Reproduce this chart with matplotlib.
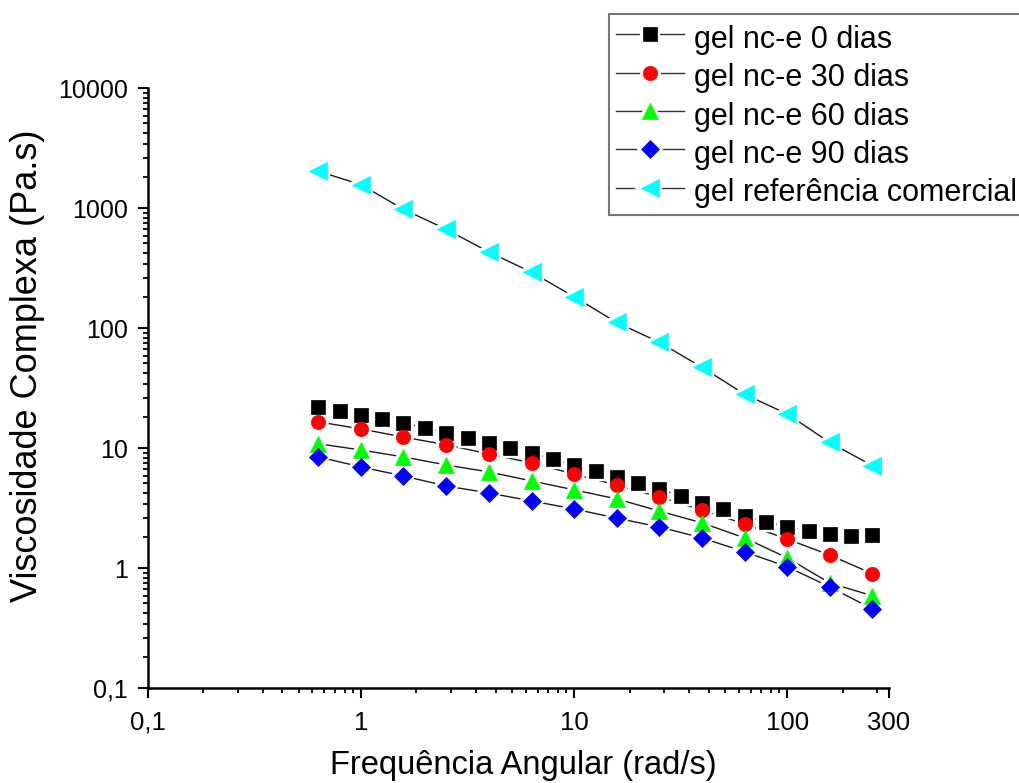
import numpy as np
import matplotlib
matplotlib.use("Agg")
import matplotlib.pyplot as plt
from matplotlib import ticker
from matplotlib.lines import Line2D
from matplotlib.legend_handler import HandlerTuple

plt.rcParams['font.family'] = ['Liberation Sans', 'DejaVu Sans']

# angular frequency (rad/s)
freq_fine = [0.631, 0.794, 1.0, 1.26, 1.58, 2.0, 2.51, 3.16, 3.98, 5.01, 6.31, 7.94,
             10.0, 12.6, 15.8, 20.0, 25.1, 31.6, 39.8, 50.1, 63.1, 79.4, 100.0,
             126.0, 158.0, 200.0, 251.0]
freq = [0.631, 1.0, 1.58, 2.51, 3.98, 6.31, 10.0, 15.8, 25.1, 39.8, 63.1, 100.0, 158.0, 251.0]

# complex viscosity (Pa.s)
visc_0 = [22.2, 20.6, 19.05, 17.5, 16.2, 14.8, 13.5, 12.2, 11.1, 10.0, 9.14, 8.14,
          7.26, 6.47, 5.77, 5.14, 4.58, 4.0, 3.5, 3.12, 2.73, 2.43, 2.21,
          2.05, 1.93, 1.86, 1.89]
visc_30 = [16.6, 14.5, 12.4, 10.7, 8.97, 7.55, 6.1, 4.95, 3.93, 3.06, 2.34, 1.75, 1.29, 0.90]
visc_60 = [10.9, 9.68, 8.47, 7.26, 6.35, 5.35, 4.5, 3.79, 3.0, 2.39, 1.79, 1.22, 0.755, 0.59]
visc_90 = [8.47, 6.99, 5.88, 4.85, 4.24, 3.64, 3.12, 2.62, 2.21, 1.79, 1.37, 1.03, 0.70, 0.458]
visc_ref = [2033, 1573, 981, 668, 432, 293, 183, 112, 76.4, 47.3, 28.2, 19.3, 11.2, 7.16]

labels = ['gel nc-e 0 dias', 'gel nc-e 30 dias', 'gel nc-e 60 dias',
          'gel nc-e 90 dias', 'gel referência comercial']

series = [
    (freq_fine, visc_0, 's', '#000000', 9.4, (0, (1, 4))),
    (freq, visc_30, 'o', '#ff0000', 10.3, '-'),
    (freq, visc_60, '^', '#00ff00', 12.0, '-'),
    (freq, visc_90, 'D', '#0000ff', 8.9, '-'),
    (freq, visc_ref, '<', '#00ffff', 12.5, '-'),
]

fig = plt.figure(figsize=(10.2, 7.83), dpi=100)
ax = fig.add_axes([148 / 1020, 1 - 688.3 / 783, (889 - 148) / 1020, (688.3 - 88.3) / 783])

handles = []
for x, y, mk, col, ms, ls in series:
    ln, = ax.plot(x, y, color='#1a1a1a', lw=1.0, ls=ls, zorder=1)
    halo, = ax.plot(x, y, ls='none', marker=mk, ms=ms, mfc='white', mec='white',
                    mew=4.5, zorder=2)
    mkr, = ax.plot(x, y, ls='none', marker=mk, ms=ms, mfc=col, mec=col,
                   mew=0.5, zorder=3)
    leg_line = Line2D([], [], color='#333333', lw=1.0)
    handles.append((leg_line, halo, mkr))

ax.set_xscale('log')
ax.set_yscale('log')
ax.set_xlim(0.1, 300)
ax.set_ylim(0.1, 10000)


def comma_fmt(v, pos):
    s = ('%g' % v)
    return s.replace('.', ',')


x_major = [0.1, 1, 10, 100, 300]
y_major = [0.1, 1, 10, 100, 1000, 10000]
ax.xaxis.set_major_locator(ticker.FixedLocator(x_major))
ax.yaxis.set_major_locator(ticker.FixedLocator(y_major))
ax.xaxis.set_major_formatter(ticker.FuncFormatter(comma_fmt))
ax.yaxis.set_major_formatter(ticker.FuncFormatter(comma_fmt))

# Origin-style minor ticks: 10 linear subdivisions per decade
sub = 1 + 9 * np.arange(1, 11) / 11
x_minor = [d * s for d in [0.1, 1, 10, 100] for s in sub if d * s < 300]
y_minor = [d * s for d in [0.1, 1, 10, 100, 1000] for s in sub]
ax.xaxis.set_minor_locator(ticker.FixedLocator(x_minor))
ax.yaxis.set_minor_locator(ticker.FixedLocator(y_minor))
ax.xaxis.set_minor_formatter(ticker.NullFormatter())
ax.yaxis.set_minor_formatter(ticker.NullFormatter())

for side in ['top', 'right']:
    ax.spines[side].set_visible(False)
for side in ['left', 'bottom']:
    ax.spines[side].set_linewidth(1.8)

ax.tick_params(which='major', direction='out', length=7, width=1.5)
ax.tick_params(which='minor', direction='out', length=3.5, width=1.3)
ax.tick_params(axis='y', which='major', labelsize=18, pad=7.5)
ax.tick_params(axis='x', which='major', labelsize=18.5, pad=9)

ax.set_xlabel('Frequência Angular (rad/s)', fontsize=23.5)
ax.xaxis.label.set_va('center')
ax.xaxis.set_label_coords(0.507, -0.128)
ax.set_ylabel('Viscosidade Complexa (Pa.s)', fontsize=26)
ax.yaxis.label.set_va('center')
ax.yaxis.set_label_coords(-0.162, 0.537)

leg = fig.legend(handles, labels, loc='upper left',
                 bbox_to_anchor=(609 / 1020, 1 - 14 / 783),
                 fontsize=22, frameon=True, fancybox=False, shadow=False,
                 handlelength=2.25, handletextpad=0.3, borderpad=0.22,
                 handleheight=1.35, labelspacing=0.13, borderaxespad=0,
                 numpoints=1,
                 handler_map={tuple: HandlerTuple(ndivide=1, pad=0)})
leg.get_frame().set_edgecolor('#555555')
leg.get_frame().set_linewidth(1.5)

fig.savefig('out.png', dpi=100)
